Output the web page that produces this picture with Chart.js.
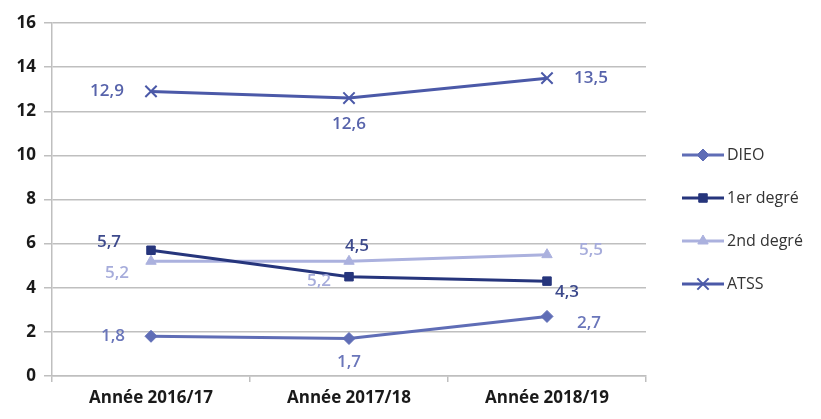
<!DOCTYPE html>
<html>
<head>
<meta charset="utf-8">
<script src="https://cdn.jsdelivr.net/npm/chart.js@4"></script>
<style>
  html, body { margin: 0; padding: 0; background: #fff; }
  #wrap { width: 821px; height: 419px; }
</style>
</head>
<body>
<div id="wrap"><canvas id="chart" width="821" height="419"></canvas></div>
<script>
// chart data
const years = ["Année 2016/17", "Année 2017/18", "Année 2018/19"];
const dieo = [1.8, 1.7, 2.7];
const premierDegre = [5.7, 4.5, 4.3];
const secondDegre = [5.2, 5.2, 5.5];
const atss = [12.9, 12.6, 13.5];
const yTicks = [0, 2, 4, 6, 8, 10, 12, 14, 16];

// label offsets (dx, dy) from each point and label colour, per series
const labelPlacement = [
  { color: "#6a76ba", offs: [[-38, 0], [0, 24], [42, 7]] },
  { color: "#3d4a8c", offs: [[-42, -8], [8, -31], [20, 11]] },
  { color: "#a6acdb", offs: [[-34, 12], [-30, 20], [44, -5]] },
  { color: "#5763ab", offs: [[-44, 0], [0, 26], [44, 0]] },
];

const fmt = (v) => v.toFixed(1).replace(".", ",");

const pointLabels = {
  id: "pointLabels",
  afterDatasetsDraw(chart) {
    const c = chart.ctx;
    c.save();
    c.font = "600 17px 'Open Sans'";
    c.textAlign = "center";
    c.textBaseline = "middle";
    chart.data.datasets.forEach((ds, i) => {
      const meta = chart.getDatasetMeta(i);
      const pl = labelPlacement[i];
      c.fillStyle = pl.color;
      meta.data.forEach((pt, j) => {
        c.fillText(fmt(ds.data[j]), pt.x + pl.offs[j][0], pt.y + pl.offs[j][1]);
      });
    });
    c.restore();
  },
};

// legend on the right: line sample with marker, then label
const sideLegend = {
  id: "sideLegend",
  afterDraw(chart) {
    const c = chart.ctx;
    c.save();
    c.textBaseline = "middle";
    chart.data.datasets.forEach((ds, i) => {
      const y = 155 + i * 43;
      c.strokeStyle = ds.borderColor;
      c.fillStyle = ds.borderColor;
      c.lineWidth = 3;
      c.beginPath();
      c.moveTo(682, y);
      c.lineTo(724, y);
      c.stroke();
      c.lineWidth = ds.pointBorderWidth;
      Chart.helpers.drawPoint(c, {
        pointStyle: ds.pointStyle,
        radius: ds.pointRadius,
        borderWidth: ds.pointBorderWidth,
      }, 703, y);
      c.font = "16px 'Open Sans'";
      c.fillStyle = "#333";
      c.fillText(ds.label, 727, y);
    });
    c.restore();
  },
};

Chart.defaults.font.family = "'Open Sans'";

const mk = (label, data, color, style, radius, bw) => ({
  label,
  data,
  borderColor: color,
  backgroundColor: color,
  pointBackgroundColor: color,
  pointBorderColor: color,
  pointStyle: style,
  pointRadius: radius,
  pointBorderWidth: bw,
  borderWidth: 3,
  tension: 0,
});

new Chart(document.getElementById("chart"), {
  type: "line",
  data: {
    labels: years,
    datasets: [
      mk("DIEO", dieo, "#5f6db6", "rectRot", 6, 1),
      mk("1er degré", premierDegre, "#26357c", "rect", 6, 1),
      mk("2nd degré", secondDegre, "#abb1de", "triangle", 6, 1),
      mk("ATSS", atss, "#4b59a8", "crossRot", 8, 2),
    ],
  },
  options: {
    responsive: false,
    animation: false,
    layout: { padding: { top: 23, right: 175, left: 0, bottom: 0 } },
    plugins: {
      legend: { display: false },
      tooltip: { enabled: false },
    },
    scales: {
      x: {
        offset: true,
        afterFit: (s) => { s.height = 43; },
        grid: { offset: true, drawOnChartArea: false, drawTicks: true, tickLength: 6, color: "#bfbfbf", lineWidth: 1.5 },
        border: { color: "#bfbfbf", width: 1.5 },
        ticks: { color: "#1a1a1a", font: { size: 17, weight: "bold" }, padding: 6 },
      },
      y: {
        min: 0,
        max: 16,
        afterFit: (s) => { s.width = 52; },
        afterBuildTicks: (s) => { s.ticks = yTicks.map((v) => ({ value: v })); },
        grid: { color: "#bfbfbf", lineWidth: 1.5, tickLength: 8 },
        border: { color: "#bfbfbf", width: 1.5 },
        ticks: { color: "#1a1a1a", font: { size: 17, weight: "bold" }, padding: 8 },
      },
    },
  },
  plugins: [pointLabels, sideLegend],
});
</script>
</body>
</html>
